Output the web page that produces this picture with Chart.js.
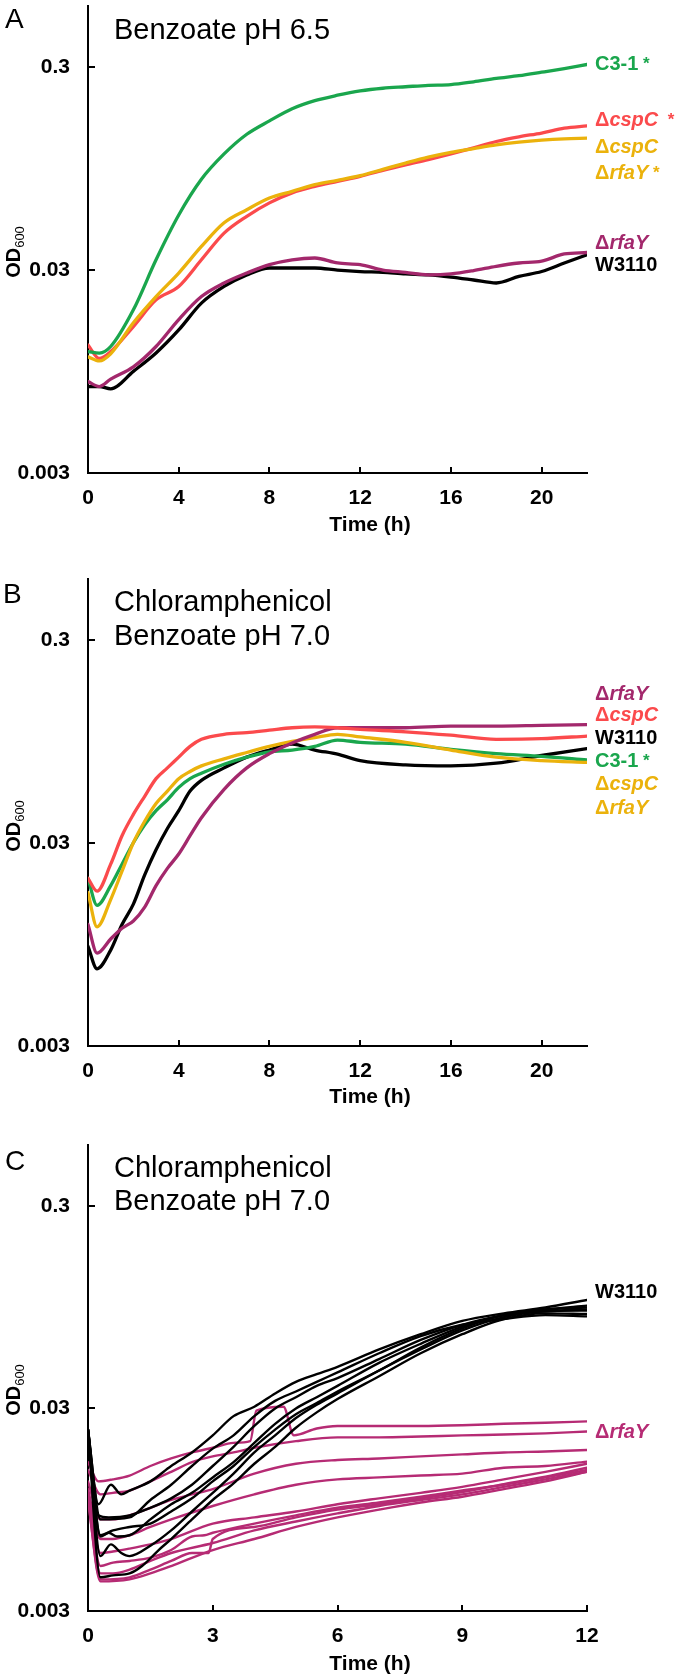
<!DOCTYPE html>
<html><head><meta charset="utf-8">
<script src="https://cdn.jsdelivr.net/npm/chart.js@4.4.0/dist/chart.umd.min.js"></script>
<style>
html,body{margin:0;padding:0;background:#fff;}
#wrap{position:relative;width:680px;height:1678px;overflow:hidden;}
.panel{position:absolute;left:0;width:680px;}
canvas{display:block;}
</style></head><body>
<div id="wrap">
<div class="panel" style="top:0px;height:540px"><canvas id="cA" width="680" height="540"></canvas></div>
<div class="panel" style="top:573px;height:540px"><canvas id="cB" width="680" height="540"></canvas></div>
<div class="panel" style="top:1139px;height:539px"><canvas id="cC" width="680" height="539"></canvas></div>
</div>
<script>
// ---------- axis ticks ----------
const yTickValues = [0.003, 0.03, 0.3];
const yTickLabels = ['0.003', '0.03', '0.3'];
const xTicksAB = [0, 4, 8, 12, 16, 20];
const xTicksC = [0, 3, 6, 9, 12];

// ---------- Panel A : Benzoate pH 6.5 ----------
const timeA = [0,0.5,1,2,3,4,5,6,7,8,9,10,11,12,13,14,15,16,17,18,19,20,21,22];
const odA_C31 = [0.0119,0.0117,0.0126,0.0191,0.0337,0.0560,0.0840,0.112,0.140,0.163,0.187,0.205,0.218,0.229,0.236,0.240,0.244,0.246,0.254,0.264,0.272,0.283,0.295,0.309];
const odA_cspC = [0.0128,0.0110,0.0119,0.0158,0.0214,0.0249,0.0337,0.0456,0.0552,0.0643,0.0720,0.0775,0.0821,0.0869,0.093,0.099,0.105,0.112,0.120,0.129,0.136,0.142,0.150,0.154];
const odA_cspCrfaY = [0.0112,0.0107,0.0116,0.0165,0.0222,0.0290,0.0392,0.0513,0.0595,0.0679,0.0733,0.0791,0.0830,0.0875,0.094,0.101,0.108,0.114,0.119,0.124,0.128,0.131,0.133,0.134];
const odA_rfaY = [0.00846,0.0080,0.0087,0.0100,0.0126,0.0171,0.0222,0.0259,0.0290,0.0319,0.0337,0.0344,0.0325,0.0319,0.0300,0.0292,0.0284,0.0287,0.0298,0.0313,0.0325,0.0332,0.0360,0.0366];
const odA_W3110 = [0.0080,0.0080,0.0078,0.0095,0.0117,0.0152,0.0206,0.0249,0.0284,0.0307,0.0307,0.0307,0.0300,0.0295,0.0292,0.0287,0.0284,0.0277,0.0268,0.0259,0.0279,0.0295,0.0325,0.0357];

// ---------- Panel B : Chloramphenicol, Benzoate pH 7.0 ----------
const timeB = [0,0.4,1,1.5,2,2.5,3,3.5,4,4.5,5,6,7,8,9,10,11,12,14,16,18,20,22];
const odB_rfaY = [0.0119,0.0086,0.0101,0.0114,0.0124,0.0145,0.0185,0.0225,0.0265,0.0326,0.0400,0.0552,0.0704,0.0827,0.0934,0.103,0.111,0.111,0.111,0.113,0.113,0.114,0.115];
const odB_cspC = [0.0201,0.0174,0.0236,0.0326,0.0415,0.0510,0.0623,0.0704,0.0795,0.0898,0.0973,0.103,0.105,0.108,0.111,0.112,0.111,0.109,0.106,0.102,0.0973,0.098,0.101];
const odB_W3110 = [0.0093,0.0072,0.0089,0.0119,0.0150,0.0209,0.0278,0.0354,0.0433,0.0541,0.0611,0.0704,0.0795,0.0862,0.0921,0.0862,0.0822,0.0764,0.0728,0.0720,0.0742,0.0810,0.0876];
const odB_C31 = [0.0201,0.0148,0.0185,0.0236,0.0301,0.0369,0.0433,0.0490,0.0564,0.0623,0.0662,0.0733,0.0795,0.0845,0.0862,0.0898,0.0965,0.0941,0.0921,0.0868,0.0827,0.0802,0.0770];
const odB_cspCrfaY = [0.0171,0.0116,0.0158,0.0218,0.0301,0.0384,0.0470,0.0541,0.0623,0.0676,0.0720,0.0780,0.0838,0.0898,0.0950,0.0993,0.103,0.100,0.0941,0.0862,0.0795,0.0764,0.0749];

// ---------- Panel C : replicates, W3110 (black) ----------
const timeC_K1 = [0,0.25,0.55,0.8,1,1.5,2,2.5,3,3.5,4,4.5,5,5.5,6,7,8,9,10,11,12];
const odC_K1 = [0.0236,0.0101,0.0126,0.0113,0.0118,0.0131,0.0156,0.0182,0.0221,0.0275,0.0306,0.0356,0.0406,0.0443,0.0482,0.0587,0.0698,0.0812,0.0885,0.0946,0.103];
const timeC_K2 = [0,0.25,0.5,1,1.5,2,2.5,3,3.5,4,4.5,5,5.5,6,7,8,9,10,11,12];
const odC_K2 = [0.0236,0.0089,0.0087,0.0089,0.0097,0.0108,0.0126,0.0156,0.0194,0.0246,0.0300,0.0341,0.0388,0.0424,0.0526,0.0654,0.0777,0.0867,0.0925,0.0966];
const timeC_K3 = [0,0.3,0.5,0.7,1,1.5,2,2.5,3,3.5,4,4.5,5,5.5,6,7,8,9,10,11,12];
const odC_K3 = [0.0236,0.0070,0.0073,0.0070,0.0071,0.0085,0.0101,0.0115,0.0137,0.0163,0.0203,0.0252,0.0300,0.0341,0.0388,0.0504,0.0626,0.0761,0.0867,0.0906,0.0925];
const timeC_K4 = [0,0.3,0.55,0.8,1,1.5,2,2.5,3,3.5,4,4.5,5,5.5,6,7,8,9,10,11,12];
const odC_K4 = [0.0236,0.0056,0.0064,0.0058,0.0056,0.0063,0.0075,0.0093,0.0115,0.0143,0.0182,0.0221,0.0269,0.0313,0.0356,0.0462,0.0587,0.0729,0.0848,0.0906,0.0914];
const timeC_K5 = [0,0.3,0.6,1,1.3,1.7,2,2.5,3,3.5,4,4.5,5,5.5,6,7,8,9,10,11,12];
const odC_K5 = [0.0236,0.0044,0.0045,0.0046,0.0050,0.0060,0.0068,0.0085,0.0106,0.0128,0.0160,0.0194,0.0241,0.0287,0.0334,0.0433,0.0562,0.0698,0.0830,0.0885,0.0878];
const timeC_K6 = [0,0.3,0.6,1,1.5,2,2.5,3,3.5,4,4.5,5,5.5,6,7,8,9,10,11,12];
const odC_K6 = [0.0236,0.0071,0.0075,0.0078,0.0081,0.0093,0.0108,0.0131,0.0156,0.0194,0.0236,0.0281,0.0319,0.0364,0.0462,0.0600,0.0745,0.0867,0.0925,0.0946];
const timeC_K7 = [0,0.3,1,1.5,2,2.5,3,3.5,4,4.5,5,5.5,6,7,8,9,10,11,12];
const odC_K7 = [0.0236,0.0085,0.0087,0.0106,0.0126,0.0156,0.0190,0.0221,0.0275,0.0327,0.0364,0.0406,0.0452,0.0562,0.0683,0.0777,0.0830,0.0867,0.0855];

// ---------- Panel C : replicates, ΔrfaY (magenta) ----------
const timeC_M1 = [0,0.25,0.6,1,1.5,2,2.5,3,3.5,3.9,4.05,4.7,4.95,5.5,6,7,8,9,10,11,12];
const odC_M1 = [0.0163,0.0131,0.0134,0.0140,0.0156,0.0170,0.0182,0.0192,0.0203,0.0207,0.0293,0.0306,0.0221,0.0239,0.0246,0.0246,0.0246,0.0248,0.0252,0.0255,0.0259];
const timeC_M2 = [0,0.3,0.6,1,1.5,2,2.5,3,3.5,4,5,6,7,8,9,10,11,12];
const odC_M2 = [0.0149,0.0113,0.0115,0.0118,0.0131,0.0146,0.0163,0.0174,0.0182,0.0192,0.0207,0.0216,0.0216,0.0218,0.0221,0.0223,0.0226,0.0231];
const timeC_M3 = [0,0.3,0.6,1,1.5,2,2.5,3,4,5,6,7,8,9,10,11,12];
const odC_M3 = [0.0131,0.0085,0.0085,0.0089,0.0097,0.0106,0.0113,0.0120,0.0143,0.0160,0.0167,0.0170,0.0174,0.0178,0.0182,0.0184,0.0187];
const timeC_M4 = [0,0.3,0.6,1,1.5,2,3,4,5,6,7,8,9,10,11,12];
const odC_M4 = [0.0120,0.0068,0.0068,0.0071,0.0078,0.0085,0.0099,0.0113,0.0126,0.0134,0.0137,0.0140,0.0143,0.0153,0.0156,0.0164];
const timeC_M5 = [0,0.3,0.6,1,1.5,2,3,4,5,6,7,8,9,10,11,12];
const odC_M5 = [0.0115,0.0058,0.0059,0.0061,0.0064,0.0068,0.0081,0.0087,0.0093,0.0101,0.0108,0.0115,0.0123,0.0134,0.0146,0.0160];
const timeC_M6 = [0,0.3,0.6,1,1.5,2,2.5,2.8,3,4,5,6,7,8,9,10,11,12];
const odC_M6 = [0.0110,0.0050,0.0052,0.0053,0.0055,0.0060,0.0070,0.0071,0.0073,0.0081,0.0089,0.0097,0.0103,0.0110,0.0118,0.0126,0.0137,0.0149];
const timeC_M7 = [0,0.3,0.6,1,1.5,2,3,4,5,6,7,8,9,10,11,12];
const odC_M7 = [0.0110,0.0046,0.0046,0.0048,0.0053,0.0058,0.0065,0.0075,0.0083,0.0091,0.0099,0.0106,0.0113,0.0123,0.0134,0.0146];
const timeC_M8 = [0,0.3,1,1.5,2,2.5,2.9,3,4,5,6,7,8,9,10,11,12];
const odC_M8 = [0.0106,0.0043,0.0044,0.0048,0.0053,0.0058,0.0058,0.0068,0.0078,0.0087,0.0095,0.0101,0.0108,0.0116,0.0127,0.0138,0.0153];
const timeC_M9 = [0,0.3,1,1.5,2,3,4,5,6,7,8,9,10,11,12];
const odC_M9 = [0.0106,0.0042,0.0043,0.0046,0.0050,0.0060,0.0068,0.0078,0.0087,0.0095,0.0103,0.0110,0.0120,0.0131,0.0146];

// ---------- colours ----------
const GREEN = '#1aa64d', RED = '#fb4a4c', GOLD = '#ebb20c', PURPLE = '#a3286c', MAGENTA = '#b62b74', BLACK = '#000000';
const FONT = "'Liberation Sans', Arial, Helvetica, sans-serif";

// ---------- right-hand labels ----------
const labelsA = [
  {color: GREEN,  parts: [['C3-1','b'],[' *','s']]},
  {color: RED,    parts: [['\u0394','b'],['cspC','bi'],['  *','s']]},
  {color: GOLD,   parts: [['\u0394','b'],['cspC','bi']]},
  {color: GOLD,   parts: [['\u0394','b'],['rfaY','bi'],[' *','s']]},
  {color: PURPLE, parts: [['\u0394','b'],['rfaY','bi']]},
  {color: BLACK,  parts: [['W3110','b']]}
];
const labelsB = [
  {color: PURPLE, parts: [['\u0394','b'],['rfaY','bi']]},
  {color: RED,    parts: [['\u0394','b'],['cspC','bi']]},
  {color: BLACK,  parts: [['W3110','b']]},
  {color: GREEN,  parts: [['C3-1','b'],[' *','s']]},
  {color: GOLD,   parts: [['\u0394','b'],['cspC','bi']]},
  {color: GOLD,   parts: [['\u0394','b'],['rfaY','bi']]}
];
const labelsC = [
  {color: BLACK,   parts: [['W3110','b']]},
  {color: MAGENTA, parts: [['\u0394','b'],['rfaY','bi']]}
];

const pts = (t, v) => t.map((x, i) => ({x: x, y: v[i]}));

const panelDecor = {
  id: 'panelDecor',
  afterDraw(chart, args, o) {
    const ctx = chart.ctx, xs = chart.scales.x, ys = chart.scales.y;
    ctx.save();
    ctx.strokeStyle = '#000'; ctx.lineWidth = 2;
    ctx.beginPath();
    xs.ticks.forEach(t => {
      const px = Math.round(xs.getPixelForValue(t.value));
      if (Math.abs(px - xs.left) < 2) return;
      ctx.moveTo(px, ys.bottom); ctx.lineTo(px, ys.bottom - 6);
    });
    ys.ticks.forEach(t => {
      const py = Math.round(ys.getPixelForValue(t.value));
      if (Math.abs(py - ys.bottom) < 2) return;
      ctx.moveTo(xs.left, py); ctx.lineTo(xs.left + 7, py);
    });
    ctx.stroke();
    ctx.fillStyle = '#000'; ctx.textAlign = 'left'; ctx.textBaseline = 'alphabetic';
    ctx.font = '28px ' + FONT;
    ctx.fillText(o.letter, o.letterX, o.letterY);
    ctx.font = '29px ' + FONT;
    o.title.forEach((line, i) => ctx.fillText(line, o.titleX, o.titleY[i]));
    ctx.textBaseline = 'middle';
    o.labels.forEach((lab, i) => {
      let x = o.labelX;
      ctx.fillStyle = lab.color;
      lab.parts.forEach(p => {
        ctx.font = p[1] === 'bi' ? 'italic bold 20px ' + FONT : (p[1] === 's' ? 'bold 17px ' + FONT : 'bold 20px ' + FONT);
        ctx.fillText(p[0], x, o.labelY[i]);
        x += ctx.measureText(p[0]).width;
      });
    });
    ctx.save();
    ctx.translate(o.odX, o.odY);
    ctx.rotate(-Math.PI / 2);
    ctx.fillStyle = '#000'; ctx.textAlign = 'left'; ctx.textBaseline = 'alphabetic';
    ctx.font = 'bold 20px ' + FONT; const w1 = ctx.measureText('OD').width;
    ctx.font = '13px ' + FONT; const w2 = ctx.measureText('600').width;
    const x0 = -(w1 + w2) / 2;
    ctx.font = 'bold 20px ' + FONT; ctx.fillText('OD', x0, 7);
    ctx.font = '13px ' + FONT; ctx.fillText('600', x0 + w1, 11);
    ctx.restore();
    ctx.fillStyle = '#000'; ctx.textAlign = 'center'; ctx.textBaseline = 'middle';
    ctx.font = 'bold 21px ' + FONT;
    ctx.fillText('Time (h)', o.xTitleX, o.xTitleY);
    ctx.restore();
  }
};

function makeChart(id, datasets, xMax, xTicks, deco, lw) {
  return new Chart(document.getElementById(id), {
    type: 'line',
    data: {datasets: datasets.map(d => ({
      data: d.data, borderColor: d.color, backgroundColor: d.color,
      borderWidth: lw, pointRadius: 0, fill: false,
      cubicInterpolationMode: 'monotone'
    }))},
    plugins: [panelDecor],
    options: {
      responsive: false, animation: false, devicePixelRatio: 1,
      layout: {padding: {top: 6, right: 93, left: 0, bottom: 0}},
      plugins: {legend: {display: false}, tooltip: {enabled: false}, panelDecor: deco},
      elements: {line: {borderCapStyle: 'round', borderJoinStyle: 'round'}},
      scales: {
        x: {
          type: 'linear', min: 0, max: xMax, bounds: 'data',
          grid: {display: false, drawTicks: false},
          border: {display: true, color: '#000', width: 2},
          ticks: {color: '#000', font: {family: FONT, size: 21, weight: 'bold'}, padding: 13, maxRotation: 0, autoSkip: false},
          afterBuildTicks: s => { s.ticks = xTicks.map(v => ({value: v})); },
          afterFit: s => { s.height = 67; s.paddingLeft = 0; s.paddingRight = 0; }
        },
        y: {
          type: 'logarithmic', min: 0.003, max: 0.6, bounds: 'data',
          grid: {display: false, drawTicks: false},
          border: {display: true, color: '#000', width: 2},
          ticks: {color: '#000', font: {family: FONT, size: 21, weight: 'bold'}, padding: 18, autoSkip: false,
            callback: v => { const i = yTickValues.findIndex(t => Math.abs(t - v) < 1e-9); return i >= 0 ? yTickLabels[i] : ''; }},
          afterBuildTicks: s => { s.ticks = yTickValues.map(v => ({value: v})); },
          afterFit: s => { s.width = 88; s.paddingTop = 0; s.paddingBottom = 0; }
        }
      }
    }
  });
}

makeChart('cA', [
  {data: pts(timeA, odA_C31), color: GREEN},
  {data: pts(timeA, odA_rfaY), color: PURPLE},
  {data: pts(timeA, odA_cspCrfaY), color: GOLD},
  {data: pts(timeA, odA_cspC), color: RED},
  {data: pts(timeA, odA_W3110), color: BLACK}
], 22, xTicksAB, {
  letter: 'A', letterX: 5, letterY: 28,
  title: ['Benzoate pH 6.5'], titleX: 114, titleY: [39],
  labels: labelsA, labelX: 595, labelY: [64, 120, 147, 173, 243, 265],
  odX: 13, odY: 252, xTitleX: 370, xTitleY: 525
}, 3.3);

makeChart('cB', [
  {data: pts(timeB, odB_cspC), color: RED},
  {data: pts(timeB, odB_rfaY), color: PURPLE},
  {data: pts(timeB, odB_cspCrfaY), color: GOLD},
  {data: pts(timeB, odB_C31), color: GREEN},
  {data: pts(timeB, odB_W3110), color: BLACK}
], 22, xTicksAB, {
  letter: 'B', letterX: 3, letterY: 30,
  title: ['Chloramphenicol', 'Benzoate pH 7.0'], titleX: 114, titleY: [38, 72],
  labels: labelsB, labelX: 595, labelY: [121, 142, 165, 188, 211, 235],
  odX: 13, odY: 253, xTitleX: 370, xTitleY: 524
}, 3.3);

makeChart('cC', [
  {data: pts(timeC_K1, odC_K1), color: BLACK},
  {data: pts(timeC_K2, odC_K2), color: BLACK},
  {data: pts(timeC_K3, odC_K3), color: BLACK},
  {data: pts(timeC_K4, odC_K4), color: BLACK},
  {data: pts(timeC_K5, odC_K5), color: BLACK},
  {data: pts(timeC_K6, odC_K6), color: BLACK},
  {data: pts(timeC_K7, odC_K7), color: BLACK},
  {data: pts(timeC_M1, odC_M1), color: MAGENTA},
  {data: pts(timeC_M2, odC_M2), color: MAGENTA},
  {data: pts(timeC_M3, odC_M3), color: MAGENTA},
  {data: pts(timeC_M4, odC_M4), color: MAGENTA},
  {data: pts(timeC_M5, odC_M5), color: MAGENTA},
  {data: pts(timeC_M6, odC_M6), color: MAGENTA},
  {data: pts(timeC_M7, odC_M7), color: MAGENTA},
  {data: pts(timeC_M8, odC_M8), color: MAGENTA},
  {data: pts(timeC_M9, odC_M9), color: MAGENTA}
], 12, xTicksC, {
  letter: 'C', letterX: 5, letterY: 31,
  title: ['Chloramphenicol', 'Benzoate pH 7.0'], titleX: 114, titleY: [38, 71],
  labels: labelsC, labelX: 595, labelY: [153, 293],
  odX: 13, odY: 251, xTitleX: 370, xTitleY: 525
}, 2.4);
</script>
</body></html>
